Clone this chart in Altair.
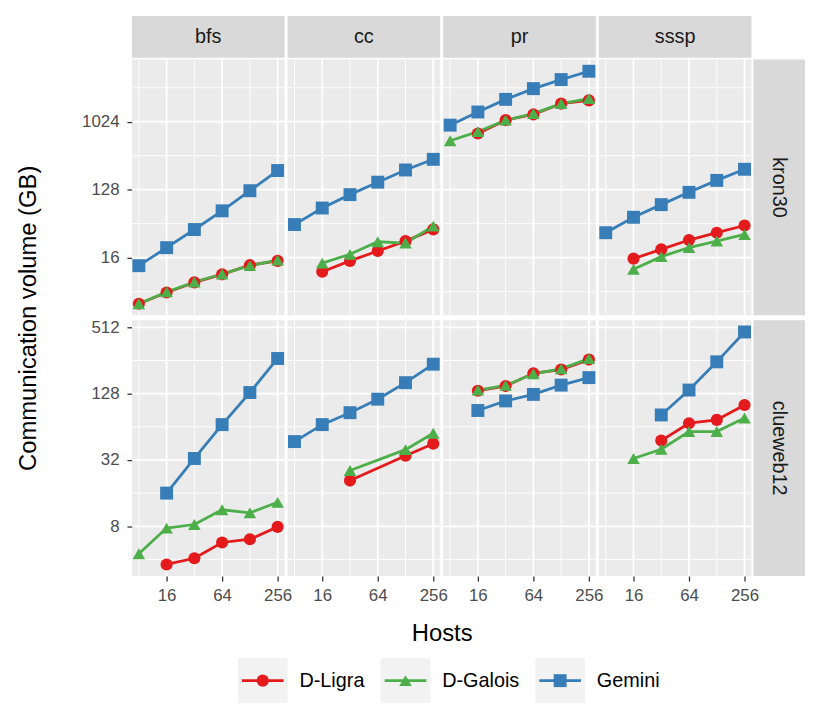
import altair as alt
import numpy as np
import pandas as pd

hosts = [8, 16, 32, 64, 128, 256]
algos = ["bfs", "cc", "pr", "sssp"]
graphs = ["kron30", "clueweb12"]
series = ["D-Ligra", "D-Galois", "Gemini"]
colors = ["#E41A1C", "#4DAF4A", "#377EB8"]
shapes = ["circle", "triangle-up", "square"]
marker_sizes = [150, 170, 135]

# kron30 (GB), one value per host count; None = not run
kron30_bfs_ligra = [3.9, 5.5, 7.5, 9.6, 12.7, 14.5]
kron30_bfs_galois = [3.9, 5.6, 7.6, 9.7, 12.5, 14.8]
kron30_bfs_gemini = [12.5, 21.7, 37.8, 67, 124, 230]
kron30_cc_ligra = [None, 10.4, 14.5, 19.6, 26.5, 38]
kron30_cc_galois = [None, 13.5, 17.7, 26, 25, 42]
kron30_cc_gemini = [44, 73, 110, 161, 234, 324]
kron30_pr_ligra = [None, 714, 1075, 1280, 1780, 1970]
kron30_pr_galois = [572, 755, 1075, 1315, 1780, 2080]
kron30_pr_gemini = [922, 1380, 2030, 2820, 3720, 4800]
kron30_sssp_ligra = [None, 15.5, 20.6, 27.4, 34.3, 42.8]
kron30_sssp_galois = [None, 11.2, 16.5, 21.7, 26.5, 32.5]
kron30_sssp_gemini = [34.3, 55, 81, 118, 170, 239]

# clueweb12 (GB)
clueweb12_bfs_ligra = [None, 3.6, 4.1, 5.7, 6.1, 7.9]
clueweb12_bfs_galois = [4.5, 7.7, 8.3, 11.3, 10.6, 13.2]
clueweb12_bfs_gemini = [None, 16, 33, 67, 131, 267]
clueweb12_cc_ligra = [None, None, 20.8, None, 35, 45]
clueweb12_cc_galois = [None, None, 25.7, None, 39.7, 56]
clueweb12_cc_gemini = [47, 67, 86, 114, 161, 237]
clueweb12_pr_ligra = [None, 136, 150, 196, 212, 261]
clueweb12_pr_galois = [None, 138, 152, 194, 215, 266]
clueweb12_pr_gemini = [None, 90, 110, 126, 153, 179]
clueweb12_sssp_ligra = [None, None, 48, 69, 74, 101]
clueweb12_sssp_galois = [None, 33, 40, 58, 58, 77]
clueweb12_sssp_gemini = [None, None, 82, 138, 249, 465]

x_major = [16, 64, 256]
x_minor = [8, 32, 128]
y_major = {"kron30": [16, 128, 1024], "clueweb12": [8, 32, 128, 512]}

suffix = {"D-Ligra": "ligra", "D-Galois": "galois", "Gemini": "gemini"}
rows = []
for g in graphs:
    for a in algos:
        for s in series:
            vals = globals()[f"{g}_{a}_{suffix[s]}"]
            for h, v in zip(hosts, vals):
                if v is not None:
                    rows.append({"graph": g, "algo": a, "series": s, "hosts": h, "volume": v})
df = pd.DataFrame(rows)

# ggplot-like 5% expansion in log space
lx = np.log2([min(hosts), max(hosts)])
px = 0.05 * (lx[1] - lx[0])
xdom = [2 ** (lx[0] - px), 2 ** (lx[1] + px)]
ydom = {}
y_minor = {}
for g in graphs:
    lv = np.log2(df[df.graph == g].volume)
    lo, hi = lv.min(), lv.max()
    p = 0.05 * (hi - lo)
    ydom[g] = [2 ** (lo - p), 2 ** (hi + p)]
    mj = np.log2(y_major[g])
    step = mj[1] - mj[0]
    cand = np.arange(mj[0] - step / 2, mj[-1] + step, step)
    y_minor[g] = [float(2 ** c) for c in cand if lo - p < c < hi + p]

W, H = 154, 258
FONT = "Liberation Sans"
TITLE_SIZE = 24
cscale = alt.Scale(domain=series, range=colors)
sscale = alt.Scale(domain=series, range=shapes)
zscale = alt.Scale(domain=series, range=marker_sizes)


def panel(r, c):
    g, a = graphs[r], algos[c]
    d = df[(df.graph == g) & (df.algo == a)]
    xs = alt.Scale(type="log", base=2, domain=xdom, nice=False)
    ys = alt.Scale(type="log", base=2, domain=ydom[g], nice=False, zero=False)

    common = dict(labelFontSize=17, labelColor="#4D4D4D", labelFont=FONT, tickColor="#333333",
                  tickWidth=1.3, tickSize=5, domain=False, grid=False, format="d")
    if r == 1:
        if c == 0:
            xaxis = alt.Axis(values=x_major, labelPadding=7, title="Hosts", titleX=(4 * W + 9) / 2,
                             titleY=58, titleBaseline="middle", titleAlign="center",
                             titleFontSize=TITLE_SIZE, titleFontWeight="normal", titleColor="black",
                             titleFont=FONT, **common)
        else:
            xaxis = alt.Axis(values=x_major, labelPadding=7, title="", **common)
    else:
        xaxis = None
    if c == 0:
        if r == 1:
            yaxis = alt.Axis(values=y_major[g], labelPadding=8, title="Communication volume (GB)",
                             titleX=-104, titleY=-2.5, titleAngle=270, titleBaseline="middle",
                             titleAlign="center", titleFontSize=TITLE_SIZE, titleFontWeight="normal",
                             titleColor="black", titleFont=FONT, **common)
        else:
            yaxis = alt.Axis(values=y_major[g], labelPadding=8, title="", **common)
    else:
        yaxis = None

    layers = []
    for vals, w in ((x_minor, 0.9), (x_major, 1.8)):
        layers.append(alt.Chart(pd.DataFrame({"v": vals})).mark_rule(color="white", strokeWidth=w)
                      .encode(x=alt.X("v:Q", scale=xs, axis=xaxis)))
    for vals, w in ((y_minor[g], 0.9), (y_major[g], 1.8)):
        layers.append(alt.Chart(pd.DataFrame({"v": vals})).mark_rule(color="white", strokeWidth=w)
                      .encode(y=alt.Y("v:Q", scale=ys, axis=yaxis)))

    enc = dict(
        x=alt.X("hosts:Q", scale=xs, axis=xaxis),
        y=alt.Y("volume:Q", scale=ys, axis=yaxis),
        color=alt.Color("series:N", scale=cscale, legend=None),
    )
    base = alt.Chart(d)
    layers.append(base.mark_line(strokeWidth=2.8).encode(**enc))
    layers.append(base.mark_point(filled=True, opacity=1).encode(
        shape=alt.Shape("series:N", scale=sscale, legend=None),
        size=alt.Size("series:N", scale=zscale, legend=None), **enc))

    if r == 0:
        lab = alt.Chart(pd.DataFrame({"label": [a]}))
        layers.append(lab.mark_rect(color="#D9D9D9").encode(
            x=alt.value(0), x2=alt.value(W), y=alt.value(-44), y2=alt.value(-2)))
        layers.append(lab.mark_text(fontSize=20, color="#1A1A1A", font=FONT, baseline="middle").encode(
            x=alt.value(W / 2), y=alt.value(-23), text="label:N"))
    if c == 3:
        lab = alt.Chart(pd.DataFrame({"label": [g]}))
        layers.append(lab.mark_rect(color="#D9D9D9").encode(
            x=alt.value(W + 2), x2=alt.value(W + 54), y=alt.value(0), y2=alt.value(H)))
        layers.append(lab.mark_text(fontSize=20, color="#1A1A1A", font=FONT, angle=90,
                                    baseline="middle").encode(
            x=alt.value(W + 28), y=alt.value(H / 2), text="label:N"))
    return alt.layer(*layers).properties(width=W, height=H)


panels = [panel(r, c) for r in range(2) for c in range(4)]
grid = alt.concat(*panels, columns=4, spacing={"row": 5, "column": 3}, bounds="flush")


def key(i):
    d = pd.DataFrame({"series": [series[i]]})
    b = alt.Chart(d)
    col = alt.Color("series:N", scale=cscale, legend=None)
    rule = b.mark_rule(strokeWidth=2.8).encode(x=alt.value(4), x2=alt.value(46), y=alt.value(22.5), color=col)
    pt = b.mark_point(filled=True, opacity=1).encode(
        x=alt.value(25), y=alt.value(22.5), color=col,
        shape=alt.Shape("series:N", scale=sscale, legend=None),
        size=alt.Size("series:N", scale=zscale, legend=None))
    txt = b.mark_text(align="left", baseline="middle", fontSize=20, color="black", font=FONT).encode(
        x=alt.value(62), y=alt.value(22.5), text="series:N")
    return alt.layer(rule, pt, txt).properties(
        width=50, height=45, view=alt.ViewBackground(fill="#F2F2F2", strokeWidth=0))


spacer = alt.Chart(pd.DataFrame({"a": [0]})).mark_point(opacity=0).encode(
    x=alt.value(0), y=alt.value(0)).properties(
    width=91, height=45, view=alt.ViewBackground(fill="#FFFFFF", strokeWidth=0))

legend = alt.hconcat(spacer, key(0), key(1), key(2), spacing=16)

chart = alt.vconcat(grid, legend, spacing=10).properties(
    padding={"left": 8, "top": 5, "right": 0, "bottom": 2}
).configure(font=FONT).configure_view(fill="#EBEBEB", strokeWidth=0)

chart.save("out.html", embed_options={"renderer": "svg", "actions": False})
